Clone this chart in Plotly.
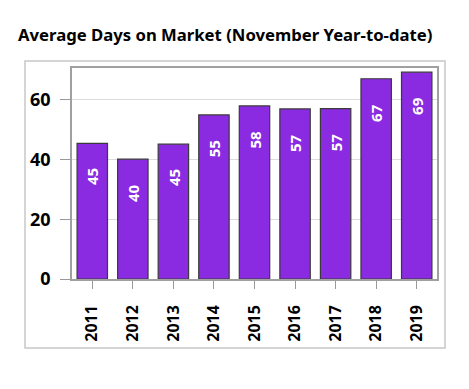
import plotly.graph_objects as go

years = ["2011", "2012", "2013", "2014", "2015", "2016", "2017", "2018", "2019"]
days = [45.4, 40.1, 45.1, 54.9, 57.9, 56.9, 57.0, 67.0, 69.2]
labels = ["45", "40", "45", "55", "58", "57", "57", "67", "69"]
y_ticks = [0, 20, 40, 60]

FONT = "Noto Sans"
OFF = 8  # default page body margin in the browser
W, H = 469 - OFF, 389 - OFF
L, T = 72 - OFF, 68 - OFF
R = W - (437 - OFF)
B = H - (279 - OFF)
pw, ph = W - L - R, H - T - B

fig = go.Figure()
fig.add_trace(go.Bar(
    x=years, y=days,
    marker=dict(color="#8A2BE2", line=dict(color="#3a3a3a", width=1.2)),
    hoverinfo="skip",
))

for i, (v, lab) in enumerate(zip(days, labels)):
    fig.add_annotation(
        x=i, y=v, xref="x", yref="y", text=lab, showarrow=False,
        textangle=-90, yanchor="top", xanchor="center", yshift=-23,
        font=dict(family=FONT, size=15, color="white", weight="bold"),
    )

def px_to_paper_x(px):
    return (px - OFF - L) / pw

def px_to_paper_y(py):
    return (H - (py - OFF) - B) / ph

fig.add_shape(
    type="rect", xref="paper", yref="paper",
    x0=px_to_paper_x(25), x1=px_to_paper_x(445),
    y0=px_to_paper_y(348), y1=px_to_paper_y(61),
    line=dict(color="#c8c8c8", width=1.5), fillcolor="rgba(0,0,0,0)", layer="below",
)

fig.update_layout(
    width=W, height=H,
    margin=dict(l=L, r=R, t=T, b=B),
    paper_bgcolor="white", plot_bgcolor="white",
    bargap=0.25,
    showlegend=False,
    title=dict(
        text="Average Days on Market (November Year-to-date)",
        x=(18 - OFF) / W, xanchor="left", y=1 - (35 - OFF) / H, yanchor="middle",
        font=dict(family=FONT, size=16.7, color="black", weight="bold"),
    ),
    xaxis=dict(
        type="category", categoryarray=years, range=[-0.5, len(years) - 0.5],
        tickangle=-90, ticks="outside", ticklen=8, tickcolor="#999999", tickwidth=1.2,
        showline=True, linecolor="#a0a0a0", linewidth=1.5, mirror=True,
        showgrid=False, ticklabelstandoff=10,
        tickfont=dict(family=FONT, size=16, color="black", weight="bold"),
    ),
    yaxis=dict(
        range=[0, 70.6], tickvals=y_ticks, ticks="outside", ticklen=10,
        tickcolor="#999999", tickwidth=1.2,
        showline=True, linecolor="#a0a0a0", linewidth=1.5, mirror=True,
        showgrid=True, gridcolor="#dcdcdc", gridwidth=1,
        zeroline=False, ticklabelstandoff=6,
        tickfont=dict(family=FONT, size=18, color="black", weight="bold"),
    ),
)

fig.write_html("out.html")
